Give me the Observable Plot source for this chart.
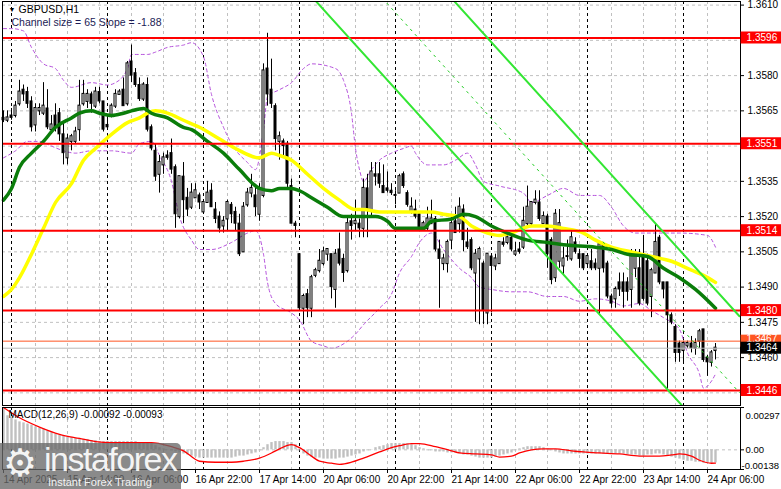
<!DOCTYPE html>
<html><head><meta charset="utf-8">
<script src="https://cdn.jsdelivr.net/npm/d3@7"></script>
<script src="https://cdn.jsdelivr.net/npm/@observablehq/plot@0.6"></script>
<style>
body{margin:0;background:#fff;}
#wrap{position:relative;width:781px;height:489px;overflow:hidden;font-family:"Liberation Sans",Arial,sans-serif;}
#main{position:absolute;left:0;top:0;}
#macd{position:absolute;left:0;top:406px;}
#wm{position:absolute;left:0;top:443px;width:181px;height:46px;background:rgba(105,105,105,0.78);border-top-right-radius:5px;color:rgba(255,255,255,0.92);}
#wm .g{position:absolute;left:3px;top:0px;font-family:"DejaVu Sans";font-size:38px;line-height:40px;}
#wm .t{position:absolute;left:44px;top:-4px;font-size:34px;line-height:40px;letter-spacing:-1.5px;}
#wm .s{position:absolute;left:48px;top:33px;font-size:11px;line-height:13px;}
</style></head><body>
<div id="wrap"><div id="main"></div><div id="macd"></div>
<div id="wm"><span class="g">⚙</span><span class="t">instaforex</span><span class="s">Instant Forex Trading</span></div></div>
<script>
// ---- axis / labels ----
const timeLabels = ["14 Apr 2025","15 Apr 14:00","16 Apr 06:00","16 Apr 22:00","17 Apr 14:00","20 Apr 06:00","20 Apr 22:00","21 Apr 14:00","22 Apr 06:00","22 Apr 22:00","23 Apr 14:00","24 Apr 06:00"];
const labelIdx = [0,16,32,48,64,80,96,112,128,144,160,176];
const gridIdx = [8,16,24,32,40,48,56,64,72,80,88,96,104,112,120,128,136,144,152,160,168,176];
const daySep = [2,26,50,74,98,122,146,170];
const priceTicks = [1.3610,1.3595,1.3580,1.3565,1.3550,1.3535,1.3520,1.3505,1.3490,1.3475,1.3460,1.3445];
const priceTickLabels = [1.3610,1.3580,1.3565,1.3535,1.3520,1.3505,1.3490,1.3475,1.3460];
const levels = [1.3596,1.3551,1.3514,1.3480,1.3446];
const askPrice = 1.3467;
const bidPrice = 1.3464;
const macdTicks = [0.00297,0.00,-0.00138];

// ---- hourly candles (bar index 0 = 14 Apr 22:00) ----
const open = [
1.3562,1.3561,1.3563,1.3563,1.3568,1.3574,1.3573,1.3569,1.3559,1.3565,
1.3564,1.3566,1.3557,1.3563,1.3564,1.3555,1.3545,1.3552,1.3552,1.3557,
1.3568,1.3569,1.3572,1.3567,1.3573,1.3569,1.3559,1.3563,1.3567,1.3572,
1.3574,1.3568,1.3586,1.3581,1.3576,1.3570,1.3576,1.3558,1.3548,1.3538,
1.3542,1.3546,1.3547,1.3541,1.3520,1.3537,1.3528,1.3524,1.3528,1.3529,
1.3522,1.3526,1.3531,1.3523,1.3520,1.3516,1.3519,1.3525,1.3522,1.3517,
1.3505,1.3525,1.3530,1.3529,1.3521,1.3529,1.3583,1.3574,1.3567,1.3552,
1.3552,1.3551,1.3533,1.3517,1.3504,1.3481,1.3487,1.3481,1.3495,1.3497,
1.3500,1.3504,1.3504,1.3489,1.3506,1.3502,1.3497,1.3518,1.3517,1.3517,
1.3515,1.3532,1.3523,1.3538,1.3538,1.3533,1.3532,1.3531,1.3529,1.3530,
1.3538,1.3530,1.3522,1.3523,1.3521,1.3515,1.3515,1.3517,1.3519,1.3506,
1.3500,1.3500,1.3510,1.3518,1.3517,1.3523,1.3509,1.3510,1.3496,1.3502,
1.3500,1.3479,1.3503,1.3499,1.3500,1.3509,1.3509,1.3511,1.3504,1.3506,
1.3507,1.3517,1.3517,1.3526,1.3526,1.3517,1.3520,1.3510,1.3494,1.3501,
1.3499,1.3503,1.3502,1.3509,1.3504,1.3504,1.3500,1.3501,1.3500,1.3498,
1.3508,1.3500,1.3486,1.3485,1.3492,1.3492,1.3492,1.3489,1.3498,1.3498,
1.3504,1.3501,1.3486,1.3496,1.3511,1.3492,1.3492,1.3478,1.3473,1.3466,
1.3463,1.3465,1.3466,1.3464,1.3467,1.3472,1.3460,1.3458,1.3463];
const high = [
1.3565,1.3565,1.3566,1.3569,1.3578,1.3576,1.3575,1.3571,1.3568,1.3568,
1.3577,1.3574,1.3563,1.3568,1.3566,1.3560,1.3555,1.3555,1.3558,1.3578,
1.3578,1.3574,1.3573,1.3575,1.3575,1.3569,1.3562,1.3568,1.3574,1.3574,
1.3579,1.3586,1.3593,1.3583,1.3579,1.3577,1.3579,1.3559,1.3551,1.3546,
1.3547,1.3548,1.3553,1.3542,1.3537,1.3543,1.3532,1.3534,1.3534,1.3530,
1.3527,1.3535,1.3534,1.3526,1.3522,1.3520,1.3527,1.3526,1.3524,1.3521,
1.3526,1.3532,1.3538,1.3532,1.3534,1.3585,1.3598,1.3587,1.3568,1.3556,
1.3553,1.3552,1.3536,1.3518,1.3504,1.3487,1.3489,1.3495,1.3498,1.3506,
1.3507,1.3506,1.3504,1.3506,1.3513,1.3504,1.3520,1.3521,1.3527,1.3519,
1.3536,1.3538,1.3543,1.3543,1.3543,1.3542,1.3539,1.3534,1.3531,1.3538,
1.3539,1.3531,1.3528,1.3527,1.3522,1.3518,1.3524,1.3527,1.3520,1.3510,
1.3504,1.3510,1.3520,1.3524,1.3528,1.3525,1.3515,1.3511,1.3506,1.3507,
1.3501,1.3504,1.3504,1.3504,1.3509,1.3511,1.3512,1.3512,1.3509,1.3509,
1.3524,1.3533,1.3526,1.3531,1.3531,1.3522,1.3521,1.3511,1.3523,1.3523,
1.3507,1.3510,1.3514,1.3511,1.3506,1.3504,1.3504,1.3506,1.3502,1.3509,
1.3509,1.3501,1.3487,1.3490,1.3496,1.3496,1.3494,1.3506,1.3506,1.3506,
1.3512,1.3504,1.3498,1.3517,1.3512,1.3492,1.3492,1.3479,1.3474,1.3467,
1.3467,1.3467,1.3469,1.3468,1.3472,1.3472,1.3461,1.3463,1.3466];
const low = [
1.3560,1.3560,1.3561,1.3562,1.3567,1.3569,1.3566,1.3556,1.3556,1.3563,
1.3563,1.3557,1.3555,1.3556,1.3552,1.3542,1.3542,1.3548,1.3551,1.3552,
1.3567,1.3566,1.3564,1.3566,1.3568,1.3556,1.3557,1.3562,1.3566,1.3572,
1.3567,1.3567,1.3577,1.3575,1.3569,1.3569,1.3556,1.3548,1.3535,1.3530,
1.3538,1.3544,1.3538,1.3515,1.3519,1.3517,1.3520,1.3523,1.3528,1.3523,
1.3521,1.3526,1.3524,1.3517,1.3513,1.3513,1.3514,1.3517,1.3514,1.3503,
1.3505,1.3524,1.3528,1.3520,1.3518,1.3528,1.3567,1.3566,1.3548,1.3544,
1.3545,1.3532,1.3517,1.3511,1.3481,1.3474,1.3477,1.3477,1.3494,1.3496,
1.3499,1.3501,1.3485,1.3481,1.3499,1.3492,1.3496,1.3510,1.3514,1.3511,
1.3511,1.3511,1.3520,1.3533,1.3532,1.3530,1.3530,1.3529,1.3525,1.3530,
1.3532,1.3524,1.3521,1.3519,1.3514,1.3514,1.3514,1.3517,1.3505,1.3481,
1.3497,1.3496,1.3506,1.3513,1.3513,1.3505,1.3506,1.3497,1.3475,1.3474,
1.3474,1.3474,1.3479,1.3497,1.3500,1.3507,1.3508,1.3505,1.3503,1.3504,
1.3506,1.3516,1.3516,1.3525,1.3518,1.3517,1.3498,1.3491,1.3492,1.3498,
1.3495,1.3501,1.3501,1.3504,1.3498,1.3497,1.3498,1.3497,1.3497,1.3478,
1.3496,1.3485,1.3481,1.3481,1.3486,1.3481,1.3484,1.3481,1.3494,1.3482,
1.3484,1.3482,1.3477,1.3496,1.3491,1.3485,1.3446,1.3474,1.3458,1.3458,
1.3458,1.3464,1.3462,1.3461,1.3464,1.3458,1.3452,1.3456,1.3459];
const close = [
1.3561,1.3562,1.3562,1.3567,1.3573,1.3572,1.3568,1.3558,1.3566,1.3566,
1.3567,1.3558,1.3559,1.3558,1.3555,1.3547,1.3553,1.3554,1.3556,1.3567,
1.3572,1.3572,1.3568,1.3573,1.3569,1.3557,1.3558,1.3567,1.3572,1.3573,
1.3567,1.3585,1.3580,1.3576,1.3570,1.3576,1.3557,1.3549,1.3537,1.3543,
1.3545,1.3545,1.3540,1.3521,1.3537,1.3527,1.3523,1.3530,1.3531,1.3526,
1.3526,1.3530,1.3524,1.3519,1.3515,1.3518,1.3526,1.3521,1.3517,1.3504,
1.3524,1.3530,1.3532,1.3524,1.3532,1.3582,1.3572,1.3568,1.3553,1.3554,
1.3550,1.3534,1.3517,1.3516,1.3481,1.3486,1.3481,1.3494,1.3497,1.3501,
1.3505,1.3506,1.3490,1.3504,1.3500,1.3496,1.3517,1.3516,1.3518,1.3515,
1.3532,1.3523,1.3539,1.3537,1.3534,1.3530,1.3531,1.3530,1.3529,1.3537,
1.3533,1.3525,1.3524,1.3520,1.3515,1.3517,1.3519,1.3519,1.3506,1.3502,
1.3502,1.3509,1.3517,1.3513,1.3524,1.3510,1.3507,1.3498,1.3504,1.3506,
1.3480,1.3504,1.3499,1.3502,1.3509,1.3508,1.3511,1.3506,1.3505,1.3505,
1.3518,1.3524,1.3526,1.3527,1.3519,1.3520,1.3504,1.3493,1.3521,1.3517,
1.3502,1.3503,1.3511,1.3505,1.3502,1.3498,1.3503,1.3498,1.3498,1.3508,
1.3498,1.3486,1.3483,1.3489,1.3489,1.3488,1.3488,1.3504,1.3503,1.3483,
1.3485,1.3483,1.3497,1.3509,1.3492,1.3489,1.3478,1.3475,1.3462,1.3462,
1.3466,1.3466,1.3464,1.3466,1.3471,1.3459,1.3458,1.3462,1.3464];

// ---- moving averages [bar index, price] ----
const yellowMA = [[0,1.3486],[2,1.3489],[4,1.3494],[7,1.3504],[10,1.3515],[13,1.3526],[17,1.3534],[20,1.3544],[23,1.3549],[27,1.3555],[31,1.3560],[34,1.3562],[36,1.3564],[38,1.3565],[41,1.3564],[45,1.3561],[49,1.3558],[54,1.3553],[58,1.3549],[64,1.3545],[67,1.3547],[69,1.3546],[72,1.3544],[76,1.3538],[80,1.3532],[84,1.3527],[88,1.3523],[90,1.3523],[94,1.3522],[99,1.3522],[107,1.3522],[110,1.3521],[114,1.3520],[117,1.3516],[121,1.3513],[124,1.3512],[127,1.3513],[132,1.3516],[136,1.3516],[140,1.3515],[145,1.3513],[148,1.3510],[152,1.3507],[157,1.3505],[162,1.3503],[167,1.3501],[171,1.3498],[175,1.3495],[178,1.3492]];
const greenMA = [[0,1.3527],[2,1.3532],[4,1.3541],[7,1.3547],[10,1.3552],[13,1.3558],[17,1.3562],[19,1.3564],[22,1.3565],[24,1.3564],[27,1.3563],[30,1.3564],[32,1.3565],[35,1.3566],[37,1.3564],[41,1.3562],[45,1.3558],[47,1.3557],[51,1.3552],[55,1.3547],[59,1.3540],[64,1.3532],[67,1.3531],[69,1.3532],[72,1.3532],[74,1.3531],[77,1.3528],[81,1.3524],[85,1.3520],[89,1.3520],[93,1.3520],[96,1.3518],[98,1.3515],[102,1.3515],[105,1.3515],[107,1.3518],[112,1.3519],[115,1.3521],[118,1.3520],[122,1.3516],[126,1.3513],[131,1.3510],[136,1.3509],[140,1.3508],[148,1.3507],[152,1.3506],[156,1.3504],[161,1.3503],[165,1.3498],[169,1.3494],[173,1.3489],[178,1.3481]];
const bandUpper = [[0,1.3600],[2,1.3600],[5,1.3599],[7,1.3592],[10,1.3585],[13,1.3583],[15,1.3578],[17,1.3575],[22,1.3577],[26,1.3576],[28,1.3577],[31,1.3583],[32,1.3589],[36,1.3589],[38,1.3590],[41,1.3592],[45,1.3593],[47,1.3594],[50,1.3588],[52,1.3572],[55,1.3558],[57,1.3551],[61,1.3543],[63,1.3540],[65,1.3557],[66,1.3571],[69,1.3574],[72,1.3577],[75,1.3583],[77,1.3585],[83,1.3583],[85,1.3578],[87,1.3564],[88,1.3549],[89,1.3540],[90,1.3535],[92,1.3540],[94,1.3544],[97,1.3547],[100,1.3549],[102,1.3550],[103,1.3547],[106,1.3542],[110,1.3542],[113,1.3544],[116,1.3547],[118,1.3542],[120,1.3535],[124,1.3533],[130,1.3530],[132,1.3526],[136,1.3529],[140,1.3532],[144,1.3529],[149,1.3529],[152,1.3524],[155,1.3516],[158,1.3513],[166,1.3513],[169,1.3513],[176,1.3512],[178,1.3507]];
const bandLower = [[0,1.3545],[3,1.3548],[6,1.3552],[9,1.3552],[12,1.3550],[15,1.3548],[18,1.3547],[22,1.3548],[27,1.3548],[32,1.3547],[34,1.3551],[37,1.3552],[39,1.3546],[42,1.3535],[44,1.3520],[47,1.3510],[49,1.3506],[52,1.3506],[57,1.3509],[61,1.3513],[63,1.3514],[65,1.3504],[66,1.3492],[68,1.3483],[72,1.3479],[74,1.3476],[77,1.3467],[80,1.3465],[82,1.3464],[86,1.3467],[88,1.3470],[90,1.3474],[94,1.3481],[97,1.3487],[99,1.3496],[102,1.3503],[104,1.3509],[107,1.3513],[110,1.3506],[114,1.3498],[117,1.3494],[119,1.3490],[122,1.3489],[127,1.3488],[131,1.3488],[136,1.3486],[140,1.3486],[144,1.3484],[148,1.3485],[152,1.3484],[155,1.3482],[159,1.3483],[162,1.3480],[165,1.3477],[169,1.3472],[171,1.3462],[174,1.3453],[175,1.3447],[177,1.3450],[178,1.3453]];

// ---- regression channel (size 65, slope -1.88 pips/bar) ----
const channelUpper = [[110,1.36167],[184,1.34776]];
const channelMiddle = [[90,1.36218],[184,1.34451]];
const channelLower = [[70,1.36269],[184,1.34126]];

// ---- MACD(12,26,9) ----
const macdHist = [
0.00290,0.00239,0.00225,0.00210,0.00196,0.00189,0.00181,0.00174,0.00160,0.00152,
0.00145,0.00131,0.00123,0.00109,0.00102,0.00094,0.00087,0.00087,0.00080,0.00080,
0.00073,0.00073,0.00065,0.00065,0.00058,0.00058,0.00058,0.00058,0.00058,0.00058,
0.00058,0.00058,0.00058,0.00058,0.00051,0.00051,0.00044,0.00044,0.00029,0.00015,
0.00007,-0.00002,-0.00007,-0.00015,-0.00022,-0.00029,-0.00036,-0.00044,-0.00051,-0.00058,
-0.00058,-0.00058,-0.00058,-0.00058,-0.00058,-0.00058,-0.00058,-0.00058,-0.00051,-0.00044,
-0.00044,-0.00036,-0.00029,-0.00022,-0.00007,0.00015,0.00036,0.00051,0.00058,0.00058,
0.00058,0.00051,0.00051,0.00036,-0.00007,-0.00029,-0.00044,-0.00051,-0.00058,-0.00058,
-0.00065,-0.00065,-0.00065,-0.00065,-0.00058,-0.00058,-0.00051,-0.00044,-0.00036,-0.00029,
-0.00015,-0.00007,-0.00002,0.00015,0.00022,0.00029,0.00036,0.00044,0.00044,0.00044,
0.00044,0.00044,0.00036,0.00029,0.00015,0.00007,-0.00007,-0.00007,-0.00015,-0.00015,
-0.00015,-0.00022,-0.00022,-0.00022,-0.00029,-0.00036,-0.00036,-0.00044,-0.00051,-0.00058,
-0.00058,-0.00058,-0.00058,-0.00051,-0.00044,-0.00036,-0.00029,-0.00022,-0.00007,0.00007,
0.00015,0.00022,0.00022,0.00022,0.00022,0.00015,0.00007,-0.00007,-0.00015,-0.00022,
-0.00029,-0.00029,-0.00029,-0.00029,-0.00029,-0.00029,-0.00029,-0.00029,-0.00029,-0.00029,
-0.00029,-0.00029,-0.00029,-0.00029,-0.00029,-0.00029,-0.00036,-0.00036,-0.00036,-0.00044,
-0.00044,-0.00036,-0.00036,-0.00029,-0.00029,-0.00036,-0.00044,-0.00051,-0.00058,-0.00065,
-0.00073,-0.00080,-0.00080,-0.00087,-0.00087,-0.00094,-0.00094,-0.00094,-0.00092];
const macdSignal = [[0,0.00297],[4,0.00225],[9,0.00160],[14,0.00109],[19,0.00080],[23,0.00058],[27,0.00051],[32,0.00051],[37,0.00051],[39,0.00044],[42,0.00022],[45,-0.00007],[49,-0.00080],[53,-0.00087],[57,-0.00087],[60,-0.00080],[64,-0.00058],[67,-0.00022],[69,0.00007],[72,0.00036],[74,0.00015],[77,-0.00044],[79,-0.00080],[82,-0.00094],[84,-0.00102],[87,-0.00087],[90,-0.00058],[94,-0.00015],[97,0.00015],[99,0.00029],[102,0.00044],[104,0.00044],[108,0.00022],[112,-0.00007],[114,-0.00022],[118,-0.00029],[122,-0.00036],[124,-0.00051],[127,-0.00044],[129,-0.00022],[132,0.00000],[135,0.00007],[138,0.00007],[142,-0.00007],[145,-0.00015],[149,-0.00022],[154,-0.00029],[159,-0.00044],[164,-0.00044],[167,-0.00036],[169,-0.00029],[172,-0.00044],[174,-0.00073],[177,-0.00094],[178,-0.00093]];

// ---- build ----
const candles = open.map((o,i)=>({i, o, h:high[i], l:low[i], c:close[i]}));
const up = candles.filter(d=>d.c>=d.o);
const dn = candles.filter(d=>d.c<d.o);
const hist = macdHist.map((v,i)=>({i, v}));
const FONT = "Liberation Sans, Arial, sans-serif";
const AX = 186, BOX1 = 184.4, BOX2 = 194.6, BOXC = 189.6;
const px = d=>d[0], py = d=>d[1];

const main = Plot.plot({
  width:781, height:406, marginLeft:2, marginRight:41, marginTop:1, marginBottom:1,
  style:{background:"white", fontFamily:FONT, fontSize:"10px", overflow:"visible"},
  x:{domain:[-0.25,184.25], axis:null},
  y:{domain:[1.343962,1.361153], axis:null},
  marks:[
    Plot.ruleY(priceTicks, {stroke:"#c0c0c0", strokeDasharray:"3,3"}),
    Plot.ruleX(gridIdx, {stroke:"#c0c0c0", strokeDasharray:"3,3"}),
    Plot.ruleX(daySep, {stroke:"black", strokeDasharray:"3,3"}),
    Plot.line(bandUpper, {x:px, y:py, stroke:"#b552dc", strokeWidth:1, strokeDasharray:"3,3", curve:"monotone-x"}),
    Plot.line(bandLower, {x:px, y:py, stroke:"#b552dc", strokeWidth:1, strokeDasharray:"3,3", curve:"monotone-x"}),
    Plot.ruleX(candles, {x:"i", y1:"l", y2:"h", stroke:"black", strokeWidth:1}),
    Plot.rect(up, {x1:d=>d.i-0.25, x2:d=>d.i+0.25, y1:"o", y2:"c", fill:"white", stroke:"black", strokeWidth:1, insetTop:-0.5, insetBottom:-0.5}),
    Plot.rect(dn, {x1:d=>d.i-0.25, x2:d=>d.i+0.25, y1:"o", y2:"c", fill:"black", stroke:"black", strokeWidth:1}),
    Plot.line(yellowMA, {x:px, y:py, stroke:"#ffff00", strokeWidth:3.5, curve:"monotone-x"}),
    Plot.line(greenMA, {x:px, y:py, stroke:"#0a7d0a", strokeWidth:3.5, curve:"monotone-x"}),
    Plot.ruleY(levels, {stroke:"#ff0000", strokeWidth:2}),
    Plot.ruleY([askPrice], {stroke:"#ff5522", strokeWidth:1}),
    Plot.ruleY([bidPrice], {stroke:"#b8b8b8", strokeWidth:1}),
    Plot.line(channelLower, {x:px, y:py, stroke:"#33e633", strokeWidth:2, clip:true}),
    Plot.line(channelUpper, {x:px, y:py, stroke:"#33e633", strokeWidth:2, clip:true}),
    Plot.line(channelMiddle, {x:px, y:py, stroke:"#22cc22", strokeWidth:1, strokeDasharray:"2,5", clip:true}),
    Plot.frame({stroke:"black"}),
    Plot.ruleY(priceTicks, {x1:()=>184.25, x2:()=>185.25, stroke:"black"}),
    Plot.text(priceTickLabels, {x:()=>AX, y:d=>d, text:d=>d.toFixed(4), textAnchor:"start", fill:"black", fontSize:10}),
    Plot.rect(levels, {x1:()=>BOX1, x2:()=>BOX2, y1:d=>d, y2:d=>d, insetTop:-6, insetBottom:-6, fill:"#ff0000"}),
    Plot.text(levels, {x:()=>BOXC, y:d=>d, text:d=>d.toFixed(4), textAnchor:"middle", fill:"white", fontSize:10}),
    Plot.rect([askPrice], {x1:()=>BOX1, x2:()=>BOX2, y1:d=>d, y2:d=>d, insetTop:-6, insetBottom:-6, fill:"#ff5522"}),
    Plot.text([askPrice], {x:()=>BOXC, y:d=>d, dy:-2, text:d=>d.toFixed(4), textAnchor:"middle", fill:"white", fontSize:10}),
    Plot.rect([bidPrice], {x1:()=>BOX1, x2:()=>BOX2, y1:d=>d, y2:d=>d, insetTop:-6, insetBottom:-6, fill:"black"}),
    Plot.text([bidPrice], {x:()=>BOXC, y:d=>d, text:d=>d.toFixed(4), textAnchor:"middle", fill:"white", fontSize:10}),
    Plot.text(["▼"], {frameAnchor:"top-left", dx:6, dy:6, text:d=>d, fontSize:7, fill:"black", textAnchor:"start", lineAnchor:"top"}),
    Plot.text(["GBPUSD,H1"], {frameAnchor:"top-left", dx:16, dy:4, text:d=>d, fontSize:10.5, fill:"black", textAnchor:"start", lineAnchor:"top"}),
    Plot.text(["Channel size = 65 Slope = -1.88"], {frameAnchor:"top-left", dx:9, dy:17, text:d=>d, fontSize:10.5, fill:"#1b1b55", textAnchor:"start", lineAnchor:"top"})
  ]
});
document.getElementById("main").appendChild(main);

const macd = Plot.plot({
  width:781, height:83, marginLeft:2, marginRight:41, marginTop:1, marginBottom:20,
  style:{background:"white", fontFamily:FONT, fontSize:"10px", overflow:"visible"},
  x:{domain:[-0.25,184.25], axis:null},
  y:{domain:[-0.00138,0.00297], axis:null},
  marks:[
    Plot.ruleX(gridIdx, {stroke:"#c0c0c0", strokeDasharray:"3,3"}),
    Plot.ruleY([0], {stroke:"#c0c0c0", strokeDasharray:"3,3"}),
    Plot.ruleX(daySep, {stroke:"black", strokeDasharray:"3,3"}),
    Plot.ruleX(hist, {x:"i", y1:()=>0, y2:"v", stroke:"#c0c0c0", strokeWidth:2.4}),
    Plot.line(macdSignal, {x:px, y:py, stroke:"#ff0000", strokeWidth:1.3, curve:"monotone-x"}),
    Plot.frame({stroke:"black"}),
    Plot.ruleY(macdTicks, {x1:()=>184.25, x2:()=>185.25, stroke:"black"}),
    Plot.text(macdTicks, {x:d=>d<0?184.5:185.5, y:d=>d, text:d=>d===0?"0.00":d.toFixed(5), textAnchor:"start", fill:"black", fontSize:9.5}),
    Plot.ruleX(labelIdx, {y1:()=>-0.00138, y2:()=>-0.00166, stroke:"black"}),
    Plot.text(timeLabels, {x:(d,k)=>labelIdx[k], y:()=>-0.00138, dy:10, text:d=>d, textAnchor:"start", fill:"black", fontSize:10}),
    Plot.text(["MACD(12,26,9) -0.00092 -0.00093"], {frameAnchor:"top-left", dx:6, dy:3, text:d=>d, fontSize:10, fill:"black", textAnchor:"start", lineAnchor:"top"})
  ]
});
// nudge extreme MACD labels inside the panel like the terminal does
d3.select(macd).selectAll("text").each(function(){
  const t = this.textContent;
  if (t === "0.00297") d3.select(this).attr("dy", "0.9em");
  if (t === "-0.00138") d3.select(this).attr("dy", "-0.35em");
});
document.getElementById("macd").appendChild(macd);
</script>
</body></html>
